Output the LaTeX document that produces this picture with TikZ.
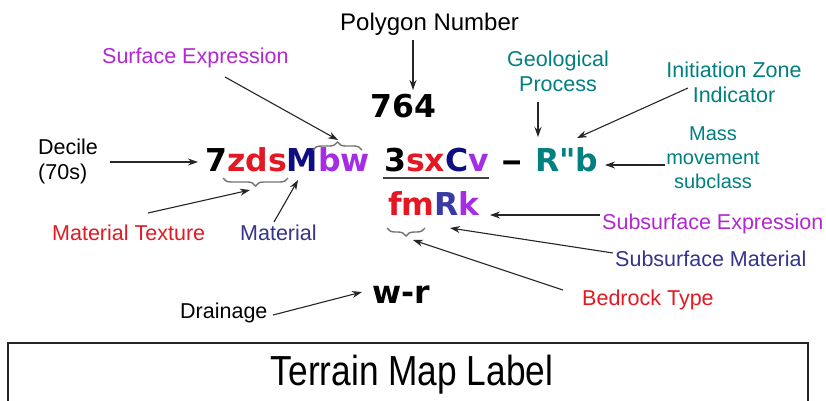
\documentclass[tikz,border=0pt]{standalone}
\usepackage{fontspec}
\setmainfont{Liberation Sans}
\newfontfamily\codefont{DejaVu Sans}
\usetikzlibrary{arrows.meta,decorations.pathreplacing}

\definecolor{cred}{RGB}{228,24,34}
\definecolor{cnavy}{RGB}{14,14,130}
\definecolor{cpurple}{RGB}{165,45,228}
\definecolor{cblue}{RGB}{58,58,165}
\definecolor{cteal}{RGB}{0,128,128}
\definecolor{lpurple}{RGB}{178,40,210}
\definecolor{lindigo}{RGB}{52,52,140}

\begin{document}
\begin{tikzpicture}[x=1pt,y=-1pt,
  lbl/.style={inner sep=0pt, font=\fontsize{21.5}{25}\selectfont, anchor=base west},
  mlbl/.style={lbl, align=center, anchor=base},
  code/.style={inner sep=0pt, font=\codefont\bfseries\fontsize{31.5}{36}\selectfont, anchor=base west},
  arr/.style={-{Stealth[length=10pt,width=7pt]}, line width=1.1pt, black!85},
  brc/.style={decorate, decoration={brace, amplitude=#1}, line width=1.4pt, black!55},
  brc/.default=8pt]
\useasboundingbox[fill=white] (0,0) rectangle (826,400);

% --- the label codes ---
\node[code] (polyid) at (370,117) {764};
\node[code] (code1) at (205,171) {7\textcolor{cred}{zds}\textcolor{cnavy}{M}\textcolor{cpurple}{bw}};
\node[code] (code2) at (384,171) {3\textcolor{cred}{sx}\textcolor{cnavy}{C}\textcolor{cpurple}{v}};
\node[code, xscale=1.35] (dash) at (501,171) {–};
\node[code, text=cteal] (proc) at (535,171) {R"b};
\node[code] (sub) at (388,215) {\textcolor{cred}{fm}\textcolor{cblue}{R}\textcolor{cpurple}{k}};
\node[code] (drain) at (372,303) {w-r};

% underline and braces
\draw[line width=1.6pt, black!75] (383,178) -- (489,178);
\draw[brc] (313,150) -- (362,150);
\draw[brc] (288,178) -- (223,178);
\draw[brc] (425,228) -- (387,228);

% --- explanatory labels ---
\node[lbl, font=\fontsize{24}{28}\selectfont] (polynum) at (340,30) {Polygon Number};
\node[lbl, text=lpurple] (surfexp) at (102,63) {Surface Expression};
\node[lbl, align=left] (decile) at (38,179) {Decile\\(70s)};
\node[lbl, text=cred] (mattex) at (52,240) {Material Texture};
\node[lbl, text=lindigo] (mat) at (240,240) {Material};
\node[mlbl, text=cteal] (geo) at (558,91) {Geological\\Process};
\node[mlbl, text=cteal] (init) at (734,102) {Initiation Zone\\Indicator};
\node[mlbl, text=cteal, font=\fontsize{20}{24}\selectfont] (mass) at (713,188) {Mass\\movement\\subclass};
\node[lbl, text=lpurple] (subexp) at (602,229) {Subsurface Expression};
\node[lbl, text=lindigo] (submat) at (615,266) {Subsurface Material};
\node[lbl, text=cred] (bedrock) at (582,305) {Bedrock Type};
\node[lbl] (drainage) at (180,318) {Drainage};

% --- arrow end points on the code letters ---
\coordinate (t-decile) at (198,162);
\coordinate (t-bw) at (338,140);
\coordinate (t-zds) at (250,190);
\coordinate (t-M) at (298,180);
\coordinate (t-764) at (413,90);
\coordinate (t-R) at (538,137);
\coordinate (t-quote) at (577,138);
\coordinate (t-b) at (605,165);
\coordinate (t-k) at (490,215);
\coordinate (t-Rsub) at (450,228);
\coordinate (t-fm) at (413,240);
\coordinate (t-wr) at (362,292);

\coordinate (s-decile) at (110,162);
\coordinate (s-surf) at (225,77);
\coordinate (s-mattex) at (148,213);
\coordinate (s-mat) at (274,222);
\coordinate (s-poly) at (413,40);
\coordinate (s-geo) at (538,102);
\coordinate (s-init) at (688,88);
\coordinate (s-mass) at (665,165);
\coordinate (s-subexp) at (600,215);
\coordinate (s-submat) at (613,253);
\coordinate (s-bed) at (563,290);
\coordinate (s-drain) at (273,315);

\draw[arr] (s-decile) -- (t-decile);
\draw[arr] (s-surf) -- (t-bw);
\draw[arr] (s-mattex) -- (t-zds);
\draw[arr] (s-mat) -- (t-M);
\draw[arr] (s-poly) -- (t-764);
\draw[arr] (s-geo) -- (t-R);
\draw[arr] (s-init) -- (t-quote);
\draw[arr] (s-mass) -- (t-b);
\draw[arr] (s-subexp) -- (t-k);
\draw[arr] (s-submat) -- (t-Rsub);
\draw[arr] (s-bed) -- (t-fm);
\draw[arr] (s-drain) -- (t-wr);

% --- title box ---
\draw[line width=1.2pt, black!85] (8,343) rectangle (808,412);
\node[inner sep=0pt, anchor=base, font=\fontsize{42}{46}\selectfont, xscale=0.84] (title) at (412,385) {Terrain Map Label};
\end{tikzpicture}
\end{document}
